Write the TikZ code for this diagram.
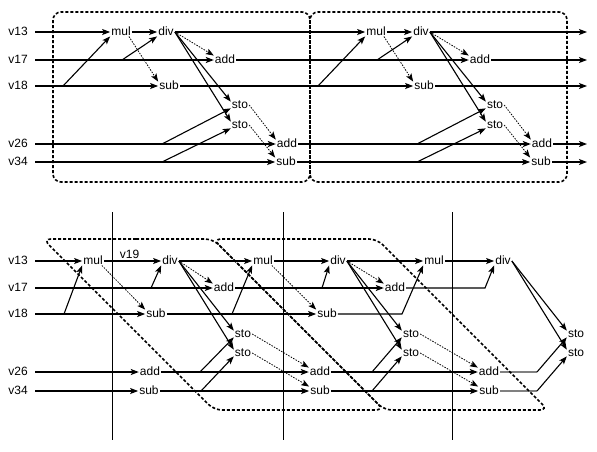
\documentclass[tikz,border=0pt]{standalone}
\usepackage{fontspec}
\setmainfont{Liberation Sans}
\usetikzlibrary{arrows.meta,calc}
\begin{document}
\begin{tikzpicture}[x=1pt,y=-1pt,
  every node/.style={font=\fontsize{12}{14}\selectfont},
  op/.style={inner sep=1pt, text height=6.5pt, text depth=0pt},
  lbl/.style={inner sep=0pt, anchor=east, text height=6.5pt, text depth=0pt},
  tip/.style={-{Stealth[length=8pt,width=6pt,inset=1.8pt]}},
  flow/.style={line width=1.1pt, tip},
  wire/.style={line width=1.1pt},
  faded/.style={line width=1.3pt, black!50},
  dep/.style={line width=0.8pt, dash pattern=on 1.5pt off 1.3pt, tip},
  grp/.style={line width=1.6pt, dash pattern=on 3pt off 2pt, rounded corners=8pt},
  cut/.style={line width=0.8pt},
]
\useasboundingbox (0,0) rectangle (597,451);

% ================= TOP =================
\node[lbl] (t13) at (28,32) {v13};
\node[lbl] (t17) at (28,60) {v17};
\node[lbl] (t18) at (28,86) {v18};
\node[lbl] (t26) at (28,144) {v26};
\node[lbl] (t34) at (28,162) {v34};

% block 1
\node[op] (tmul1) at (121,32) {mul};
\node[op] (tdiv1) at (166,32) {div};
\node[op] (tadd1) at (225,60) {add};
\node[op] (tsub1) at (169,86) {sub};
\node[op] (tsto1) at (240,105) {sto};
\node[op] (tsto2) at (240,125) {sto};
\node[op] (tadd2) at (287,144) {add};
\node[op] (tsub2) at (286,162) {sub};
% block 2
\node[op] (tmul3) at (376,32) {mul};
\node[op] (tdiv3) at (421,32) {div};
\node[op] (tadd3) at (480,60) {add};
\node[op] (tsub3) at (424,86) {sub};
\node[op] (tsto3) at (495,105) {sto};
\node[op] (tsto4) at (495,125) {sto};
\node[op] (tadd4) at (542,144) {add};
\node[op] (tsub4) at (541,162) {sub};

\coordinate (tb18a) at (63,86);
\coordinate (tb17a) at (122,60);
\coordinate (tb26a) at (162,144);
\coordinate (tb34a) at (162,162);
\coordinate (tb18b) at (318,86);
\coordinate (tb17b) at (377,60);
\coordinate (tb26b) at (417,144);
\coordinate (tb34b) at (417,162);
\coordinate (te13) at (587,32);
\coordinate (te17) at (587,60);
\coordinate (te18) at (587,86);
\coordinate (te26) at (587,144);
\coordinate (te34) at (587,162);

\draw[flow] ([xshift=7pt]t13.east) -- (tmul1.west);
\draw[flow] ([xshift=7pt]t17.east) -- (tadd1.west);
\draw[flow] ([xshift=7pt]t18.east) -- (tsub1.west);
\draw[flow] ([xshift=7pt]t26.east) -- (tadd2.west);
\draw[flow] ([xshift=7pt]t34.east) -- (tsub2.west);

\draw[flow] (tmul1) -- (tdiv1);
\draw[flow] (tb18a) -- (tmul1.south west);
\draw[flow] (tb17a) -- (tdiv1.south west);
\draw[dep] ([xshift=-3pt]tmul1.south east) -- (tsub1.north west);
\draw[dep] (tdiv1.east) -- (tadd1.north west);
\draw[flow] (tdiv1.east) -- (tsto1.160);
\draw[flow] (tdiv1.east) -- (tsto2.160);
\draw[flow] (tb26a) -- (tsto1.200);
\draw[flow] (tb34a) -- (tsto2.200);
\draw[dep] (tsto1.east) -- (tadd2.north west);
\draw[dep] (tsto2.east) -- (tsub2.north west);

\draw[flow] (tdiv1) -- (tmul3);
\draw[flow] (tadd1) -- (tadd3);
\draw[flow] (tsub1) -- (tsub3);
\draw[flow] (tadd2) -- (tadd4);
\draw[flow] (tsub2) -- (tsub4);

\draw[flow] (tmul3) -- (tdiv3);
\draw[flow] (tb18b) -- (tmul3.south west);
\draw[flow] (tb17b) -- (tdiv3.south west);
\draw[dep] ([xshift=-3pt]tmul3.south east) -- (tsub3.north west);
\draw[dep] (tdiv3.east) -- (tadd3.north west);
\draw[flow] (tdiv3.east) -- (tsto3.160);
\draw[flow] (tdiv3.east) -- (tsto4.160);
\draw[flow] (tb26b) -- (tsto3.200);
\draw[flow] (tb34b) -- (tsto4.200);
\draw[dep] (tsto3.east) -- (tadd4.north west);
\draw[dep] (tsto4.east) -- (tsub4.north west);

\draw[flow] (tdiv3.east) -- (te13);
\draw[flow] (tadd3.east) -- (te17);
\draw[flow] (tsub3.east) -- (te18);
\draw[flow] (tadd4.east) -- (te26);
\draw[flow] (tsub4.east) -- (te34);

\draw[grp] (53,12) rectangle (310,182);
\draw[grp] (310,12) rectangle (567,182);

% ================= BOTTOM =================
\draw[cut] (112,212) -- (112,440);
\draw[cut] (283,212) -- (283,440);
\draw[cut] (452,212) -- (452,440);

\node[lbl] (b13) at (28,261) {v13};
\node[lbl] (b17) at (28,288) {v17};
\node[lbl] (b18) at (28,314) {v18};
\node[lbl] (b26) at (28,372) {v26};
\node[lbl] (b34) at (28,391) {v34};

\node[op] (bmulA) at (93,261) {mul};
\node[op] (bdivA) at (170,261) {div};
\node[op] (baddA) at (224,288) {add};
\node[op] (bsubA) at (156,314) {sub};
\node[op] (bstoA1) at (243,334) {sto};
\node[op] (bstoA2) at (243,353) {sto};
\node[op] (baddB) at (150,372) {add};
\node[op] (bsubB) at (149,391) {sub};

\node[op] (bmulB) at (263,261) {mul};
\node[op] (bdivB) at (338,261) {div};
\node[op] (baddD) at (395,288) {add};
\node[op] (bsubD) at (327,314) {sub};
\node[op] (bstoB1) at (411,334) {sto};
\node[op] (bstoB2) at (411,353) {sto};
\node[op] (baddC) at (320,372) {add};
\node[op] (bsubC) at (320,391) {sub};

\node[op] (bmulC) at (434,261) {mul};
\node[op] (bdivC) at (503,261) {div};
\node[op] (bstoC1) at (576,334) {sto};
\node[op] (bstoC2) at (576,353) {sto};
\node[op] (baddE) at (489,372) {add};
\node[op] (bsubE) at (489,391) {sub};

\coordinate (bb18a) at (64,314);
\coordinate (bb17a) at (151,288);
\coordinate (bb26a) at (200,372);
\coordinate (bb34a) at (201,391);
\coordinate (bb18b) at (232,314);
\coordinate (bb17b) at (322,288);
\coordinate (bb26b) at (372,372);
\coordinate (bb34b) at (372,391);
\coordinate (bk18) at (402,314);
\coordinate (bk17) at (485,288);
\coordinate (bk26) at (537,372);
\coordinate (bk34) at (537,391);

\draw[flow] ([xshift=7pt]b13.east) -- (bmulA.west);
\draw[flow] ([xshift=7pt]b17.east) -- (baddA.west);
\draw[flow] ([xshift=7pt]b18.east) -- (bsubA.west);
\draw[flow] ([xshift=7pt]b26.east) -- (baddB.west);
\draw[flow] ([xshift=7pt]b34.east) -- (bsubB.west);

% stage 1
\draw[flow] (bmulA) -- node[pos=0.45, above, inner sep=2pt] (v19) {v19} (bdivA);
\draw[flow] (bb18a) -- (bmulA.south west);
\draw[dep] ([xshift=-2pt]bmulA.south east) -- (bsubA.north west);
\draw[flow] (bb17a) -- (bdivA.south west);
\draw[dep] (bdivA.east) -- (baddA.north west);
\draw[flow] (bdivA.east) -- (bstoA1.160);
\draw[flow] (bdivA.east) -- (bstoA2.160);
\draw[flow] (baddB) -- (baddC);
\draw[flow] (bsubB) -- (bsubC);
\draw[flow] (bb26a) -- (bstoA1.200);
\draw[flow] (bb34a) -- (bstoA2.200);
\draw[dep] (bstoA1.east) -- (baddC.north west);
\draw[dep] (bstoA2.east) -- (bsubC.north west);

% stage 2
\draw[flow] (bdivA) -- (bmulB);
\draw[flow] (bsubA) -- (bsubD);
\draw[flow] (baddA) -- (baddD);
\draw[flow] (bb18b) -- (bmulB.south west);
\draw[flow] (bmulB) -- (bdivB);
\draw[dep] ([xshift=-2pt]bmulB.south east) -- (bsubD.north west);
\draw[flow] (bb17b) -- (bdivB.south west);
\draw[dep] (bdivB.east) -- (baddD.north west);
\draw[flow] (bdivB.east) -- (bstoB1.160);
\draw[flow] (bdivB.east) -- (bstoB2.160);
\draw[flow] (baddC) -- (baddE);
\draw[flow] (bsubC) -- (bsubE);
\draw[flow] (bb26b) -- (bstoB1.200);
\draw[flow] (bb34b) -- (bstoB2.200);
\draw[dep] (bstoB1.east) -- (baddE.north west);
\draw[dep] (bstoB2.east) -- (bsubE.north west);

% stage 3
\draw[flow] (bdivB) -- (bmulC);
\draw[flow] (bsubD.east) -- (bk18) -- (bmulC.south west);
\draw[flow] (bmulC) -- (bdivC);
\draw[flow] (baddD.east) -- (bk17) -- (bdivC.south west);
\draw[flow] (bdivC.east) -- (bstoC1.160);
\draw[flow] (bdivC.east) -- (bstoC2.160);
\draw[faded] (baddE.east) -- (bk26);
\draw[faded] (bsubE.east) -- (bk34);
\draw[flow] (bk26) -- (bstoC1.200);
\draw[flow] (bk34) -- (bstoC2.200);

% groups
\draw[grp] (128,239) -- (213,239) -- (384,410) -- (214,410) -- (43,239) -- cycle;
\draw[grp] (295,239) -- (377,239) -- (548,410) -- (384,410) -- (213,239) -- cycle;
\end{tikzpicture}
\end{document}
